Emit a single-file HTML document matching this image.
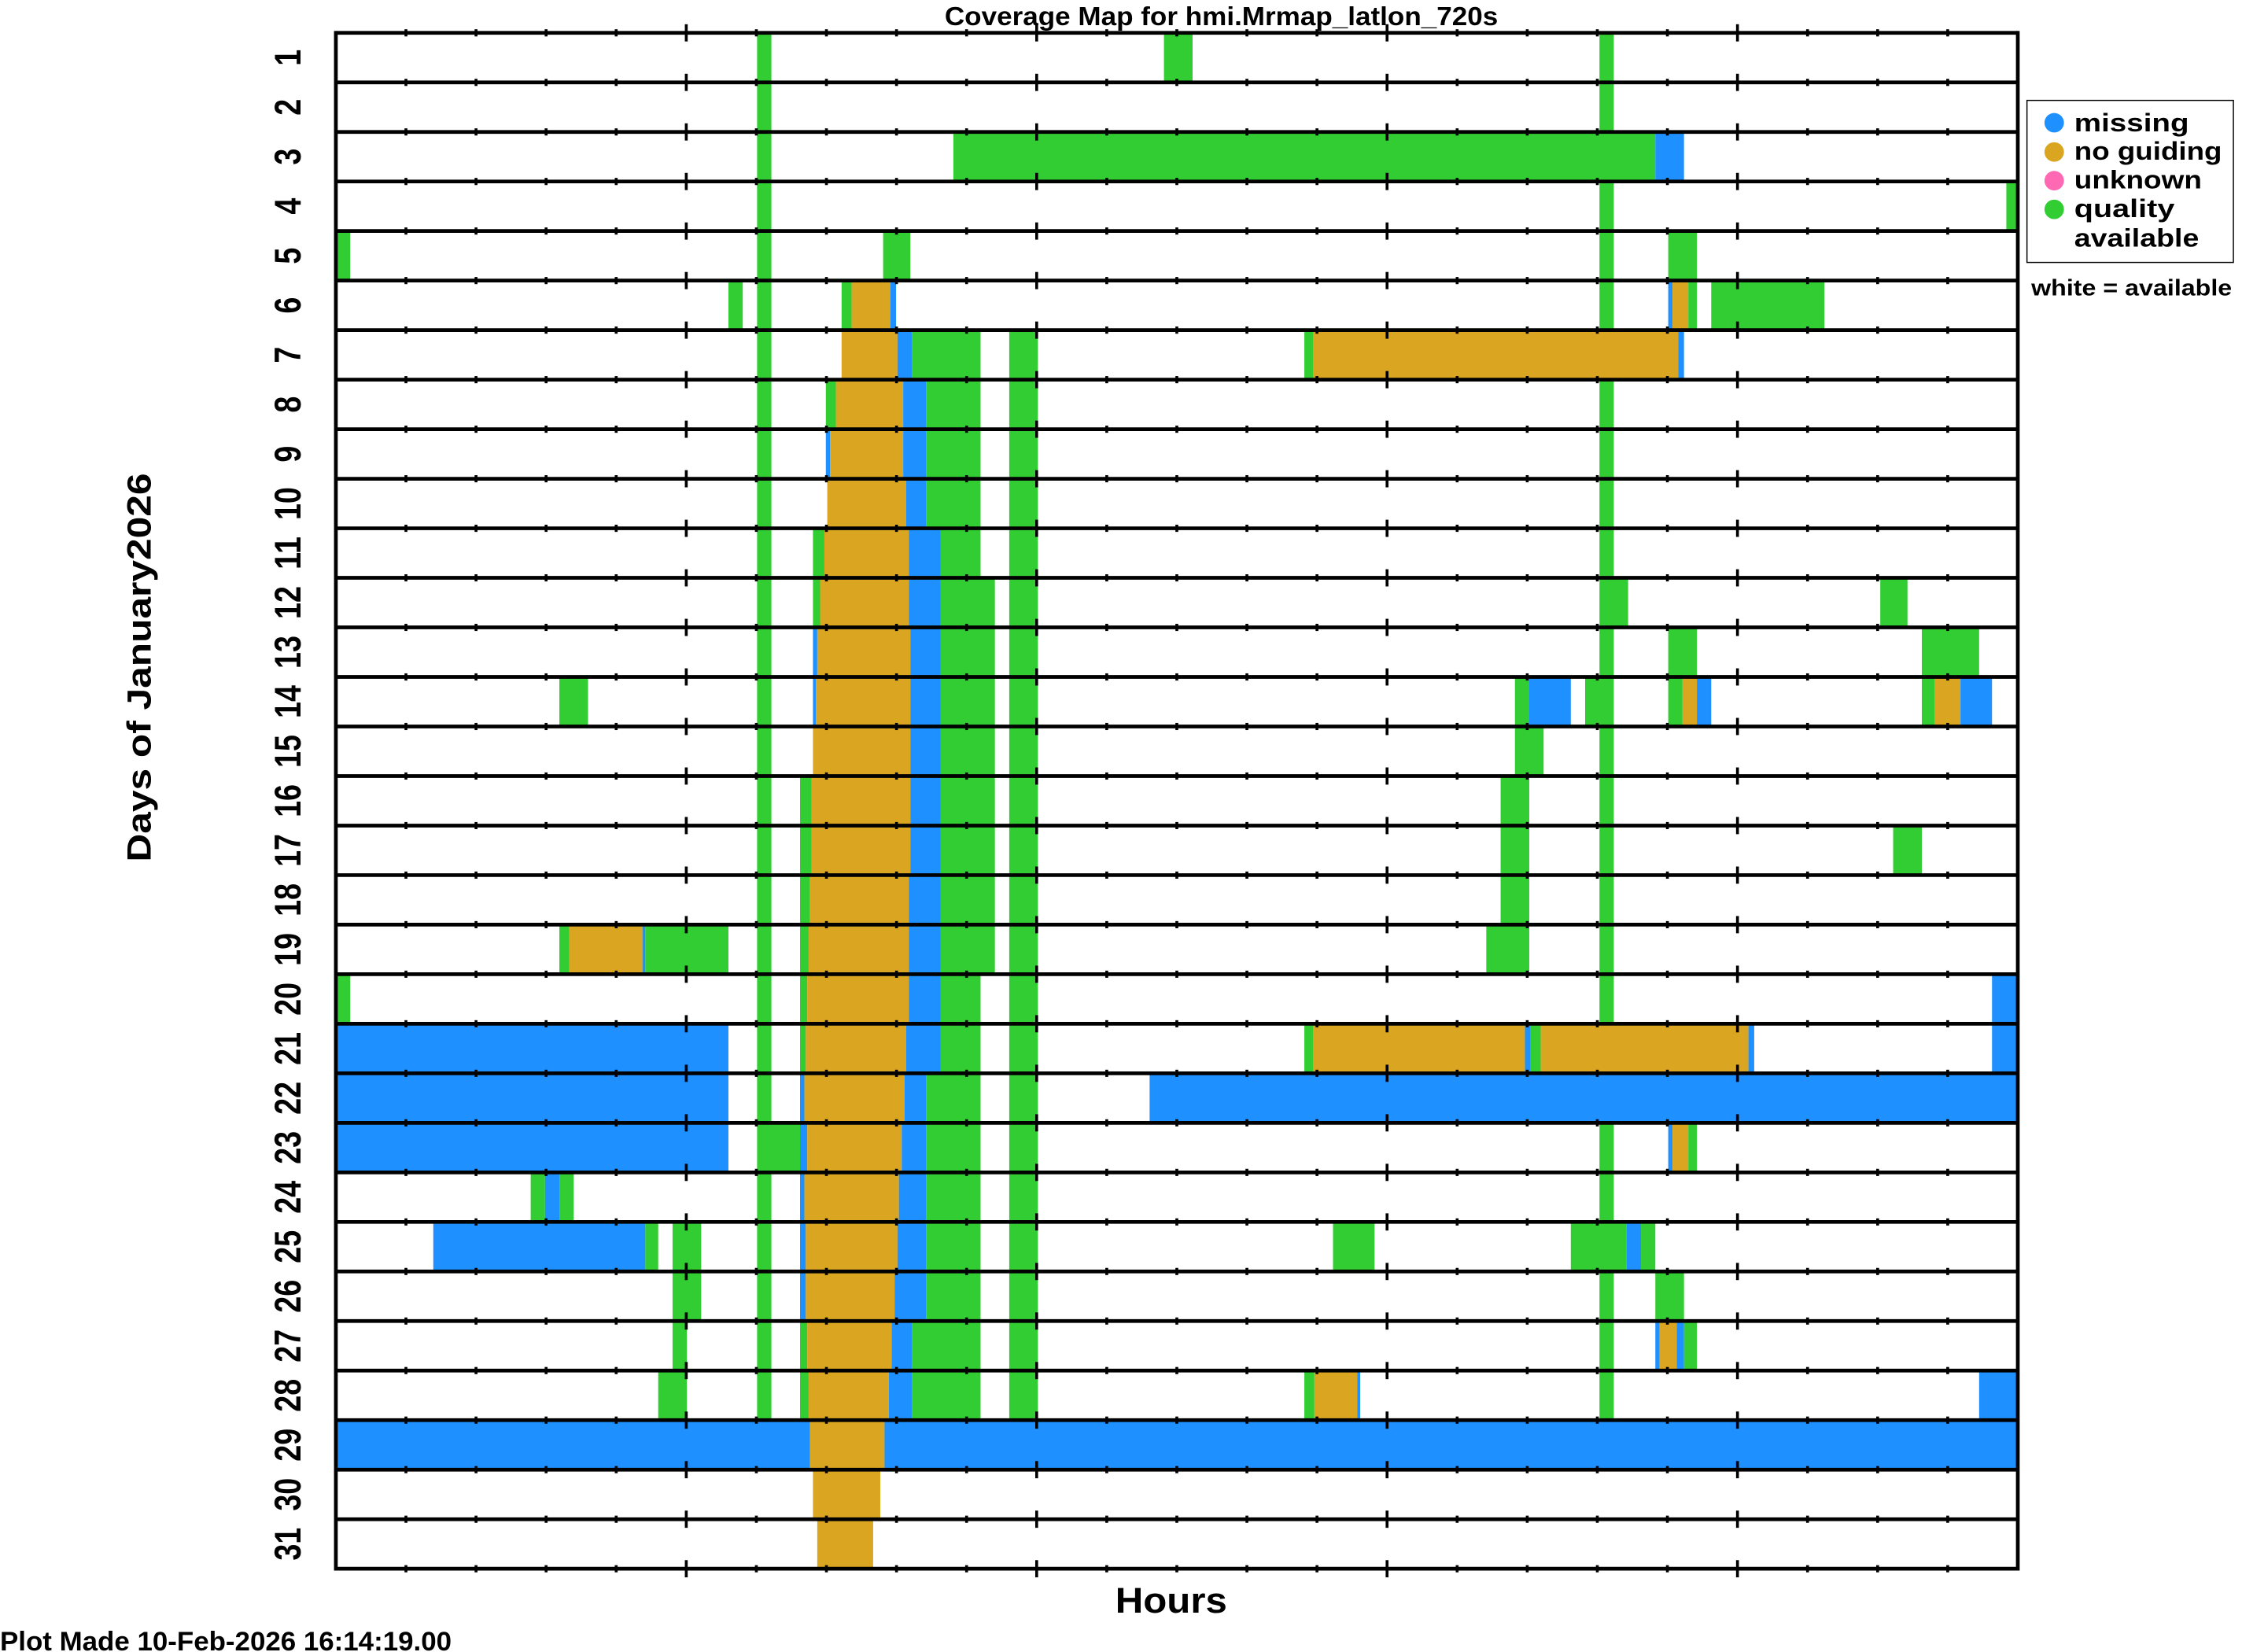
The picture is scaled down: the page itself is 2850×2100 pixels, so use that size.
<!DOCTYPE html>
<html><head><meta charset="utf-8"><style>
html,body{margin:0;padding:0;background:#fff;}
svg{display:block;}
text{font-family:"Liberation Sans",sans-serif;font-weight:bold;fill:#000;}
</style></head><body>
<svg id="s" width="2850" height="2100" viewBox="0 0 1564 1152" preserveAspectRatio="none" xmlns="http://www.w3.org/2000/svg">
<g id="bars"></g>
<g id="grid"></g>
<text x="659" y="17.5" font-size="18.5" textLength="386" lengthAdjust="spacingAndGlyphs">Coverage Map for hmi.Mrmap_latlon_720s</text>
<text x="778" y="1124.6" font-size="25" textLength="78" lengthAdjust="spacingAndGlyphs">Hours</text>
<text transform="translate(105,601) rotate(-90)" font-size="23.5" textLength="271" lengthAdjust="spacingAndGlyphs">Days of January2026</text>
<text x="0" y="1151" font-size="19" textLength="315" lengthAdjust="spacingAndGlyphs">Plot Made 10-Feb-2026 16:14:19.00</text>
<g id="ylab" font-size="26"></g>
<rect x="1414" y="70" width="144" height="113" fill="none" stroke="#000" stroke-width="0.8"/>
<circle cx="1433" cy="85.6" r="6.8" fill="#1E90FF"/>
<circle cx="1433" cy="106" r="6.8" fill="#DAA520"/>
<circle cx="1433" cy="126" r="6.8" fill="#FF69B4"/>
<circle cx="1433" cy="146" r="6.8" fill="#32CD32"/>
<g font-size="18">
<text x="1447" y="91.5" textLength="80" lengthAdjust="spacingAndGlyphs">missing</text>
<text x="1447" y="111.5" textLength="103" lengthAdjust="spacingAndGlyphs">no guiding</text>
<text x="1447" y="131.5" textLength="89" lengthAdjust="spacingAndGlyphs">unknown</text>
<text x="1447" y="151.5" textLength="70" lengthAdjust="spacingAndGlyphs">quality</text>
<text x="1447" y="172" textLength="87" lengthAdjust="spacingAndGlyphs">available</text>
</g>
<text x="1417" y="206" font-size="15.5" textLength="140" lengthAdjust="spacingAndGlyphs">white = available</text>
</svg>
<script>
var T=22.9,H=34.55,L=234.3,R=1407.6;
function mx(x){return L+(x-236)*(R-L)/(1410-236);}
var C={G:"#32CD32",B:"#1E90FF",O:"#DAA520"};
var rows={
1:"G530-540 G814-834 G1118-1128",
2:"G530-540 G1118-1128",
3:"G530-540 G667-1157 B1157-1177",
4:"G530-540 G1118-1128 G1402-1410",
5:"G236-246 G530-540 G618-637 G1118-1128 G1166-1186",
6:"G510-520 G530-540 G589-596 O596-623 B623-627 G1118-1128 B1166-1169 O1169-1180 G1180-1186 G1196-1275",
7:"G530-540 O589-628 B628-638 G638-686 G706-726 G912-918 O918-1173 B1173-1177",
8:"G530-540 G578-585 O585-632 B632-648 G648-686 G706-726 G1118-1128",
9:"G530-540 B578-581 O581-632 B632-648 G648-686 G706-726 G1118-1128",
10:"G530-540 O579-634 B634-648 G648-686 G706-726 G1118-1128",
11:"G530-540 G569-577 O577-636 B636-658 G658-686 G706-726 G1118-1128",
12:"G530-540 G569-574 O574-636 B636-658 G658-696 G706-726 G1118-1138 G1314-1333",
13:"G530-540 B569-572 O572-637 B637-658 G658-696 G706-726 G1118-1128 G1166-1186 G1343-1383",
14:"G392-412 G530-540 B569-571 O571-637 B637-658 G658-696 G706-726 G1059-1069 B1069-1098 G1108-1128 G1166-1176 O1176-1186 B1186-1196 G1343-1352 O1352-1370 B1370-1392",
15:"G530-540 O569-637 B637-658 G658-696 G706-726 G1059-1079 G1118-1128",
16:"G530-540 G560-568 O568-637 B637-658 G658-696 G706-726 G1049-1069 G1118-1128",
17:"G530-540 G560-568 O568-637 B637-658 G658-696 G706-726 G1049-1069 G1118-1128 G1323-1343",
18:"G530-540 G560-567 O567-636 B636-658 G658-696 G706-726 G1049-1069 G1118-1128",
19:"G392-399 O399-450 B450-452 G452-510 G530-540 G560-566 O566-636 B636-658 G658-696 G706-726 G1039-1069 G1118-1128",
20:"G236-246 G530-540 G560-565 O565-636 B636-658 G658-686 G706-726 G1118-1128 B1392-1410",
21:"B236-510 G530-540 G560-564 O564-634 B634-658 G658-686 G706-726 G912-918 O918-1066 B1066-1070 G1070-1077 O1077-1222 B1222-1226 B1392-1410",
22:"B236-510 G530-540 B560-563 O563-633 B633-648 G648-686 G706-726 B804-1410",
23:"B236-510 G530-560 B560-565 O565-631 B631-648 G648-686 G706-726 G1118-1128 B1166-1169 O1169-1180 G1180-1186",
24:"G372-382 B382-392 G392-402 G530-540 B560-563 O563-629 B629-648 G648-686 G706-726 G1118-1128",
25:"B304-452 G452-461 G471-491 G530-540 B560-564 O564-628 B628-648 G648-686 G706-726 G932-961 G1098-1137 B1137-1147 G1147-1157",
26:"G471-491 G530-540 B560-564 O564-626 B626-648 G648-686 G706-726 G1118-1128 G1157-1177",
27:"G471-481 G530-540 G560-565 O565-624 B624-638 G638-686 G706-726 G1118-1128 B1157-1160 O1160-1172 B1172-1177 G1177-1186",
28:"G461-481 G530-540 G560-566 O566-622 B622-638 G638-686 G706-726 G912-919 O919-949 B949-951 G1118-1128 B1383-1410",
29:"B236-567 O567-619 B619-1410",
30:"O569-616",
31:"O572-611"};
var NS="http://www.w3.org/2000/svg",bars=document.getElementById("bars"),grid=document.getElementById("grid"),yl=document.getElementById("ylab");
function el(p,n,a){var e=document.createElementNS(NS,n);for(var k in a)e.setAttribute(k,a[k]);p.appendChild(e);return e;}
for(var r in rows){var y=T+(r-1)*H;rows[r].split(" ").forEach(function(s){var c=s[0],p=s.slice(1).split("-");
var a=mx(+p[0]),b=mx(+p[1]);el(bars,"rect",{x:a,y:y,width:b-a,height:H,fill:C[c]});});}
var hw=(R-L)/24;
for(var i=0;i<=31;i++){var y=T+i*H;
el(grid,"line",{x1:L,x2:R,y1:y,y2:y,stroke:"#000","stroke-width":2.6});
for(var h=1;h<24;h++){var x=L+h*hw,m=(h%5==0)?6:2.5;
el(grid,"line",{x1:x,x2:x,y1:y-m,y2:y+m,stroke:"#000","stroke-width":2});}}
el(grid,"line",{x1:L,x2:L,y1:T-1.3,y2:T+31*H+1.3,stroke:"#000","stroke-width":2.6});
el(grid,"line",{x1:R,x2:R,y1:T-1.3,y2:T+31*H+1.3,stroke:"#000","stroke-width":2.6});
for(var d=1;d<=31;d++){var cy=T+(d-0.5)*H,w=d<10?11.5:23;
var t=el(yl,"text",{transform:"translate(209.6,"+(cy+w/2)+") rotate(-90)",textLength:w,lengthAdjust:"spacingAndGlyphs"});t.textContent=String(d);}
</script>
</body></html>
